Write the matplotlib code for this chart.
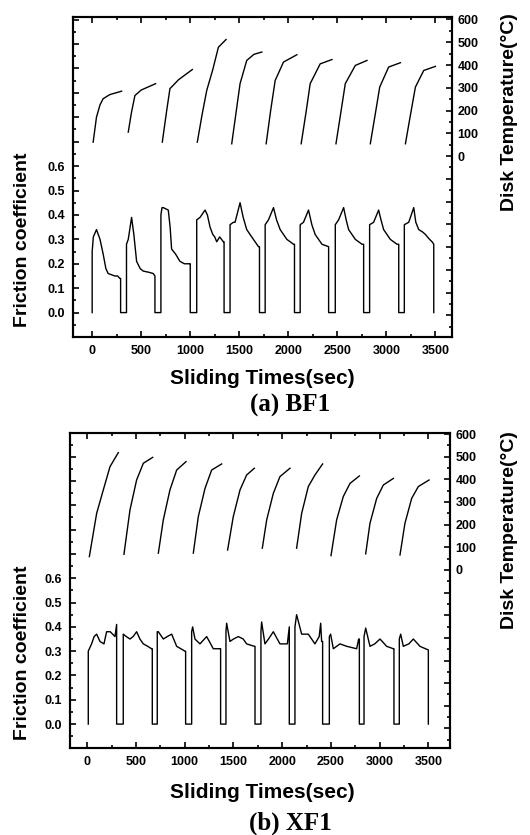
import matplotlib

matplotlib.use("Agg")
import matplotlib.pyplot as plt
from matplotlib.ticker import FuncFormatter, MultipleLocator

plt.rcParams["font.family"] = ["Liberation Sans", "DejaVu Sans"]
plt.rcParams["font.weight"] = "bold"

# (a) BF1 -- friction coefficient trace (time in s, mu)
bf1_t = [0, 0, 12, 44, 80, 112, 140, 163, 231, 260, 282, 290, 290, 350, 350, 368, 402,
         425, 453, 490, 521, 580, 623, 640, 640, 701, 701, 712, 725, 776, 795, 810, 850,
         895, 940, 991, 1000, 1000, 1066, 1066, 1100, 1151, 1175, 1202, 1230, 1250, 1270,
         1300, 1338, 1345, 1345, 1406, 1406, 1440, 1457, 1508, 1540, 1576, 1644, 1696,
         1706, 1706, 1764, 1764, 1798, 1849, 1880, 1917, 1985, 2053, 2063, 2063, 2121,
         2121, 2155, 2206, 2240, 2274, 2343, 2411, 2411, 2479, 2479, 2513, 2564, 2590,
         2615, 2683, 2751, 2768, 2768, 2829, 2829, 2870, 2921, 2945, 2972, 3040, 3108,
         3126, 3126, 3183, 3183, 3228, 3279, 3300, 3330, 3370, 3398, 3440, 3466, 3483, 3483]
bf1_mu = [0.0, 0.25, 0.31, 0.34, 0.30, 0.24, 0.18, 0.16, 0.15, 0.15, 0.14, 0.14, 0.0, 0.0,
          0.28, 0.30, 0.39, 0.32, 0.21, 0.18, 0.17, 0.165, 0.16, 0.15, 0.0, 0.0, 0.40, 0.43,
          0.43, 0.42, 0.35, 0.26, 0.24, 0.21, 0.20, 0.20, 0.20, 0.0, 0.0, 0.38, 0.39, 0.42,
          0.40, 0.35, 0.32, 0.31, 0.29, 0.31, 0.29, 0.29, 0.0, 0.0, 0.36, 0.37, 0.37, 0.45,
          0.39, 0.34, 0.30, 0.27, 0.27, 0.0, 0.0, 0.36, 0.38, 0.43, 0.38, 0.34, 0.30, 0.28,
          0.28, 0.0, 0.0, 0.36, 0.37, 0.42, 0.36, 0.32, 0.28, 0.27, 0.0, 0.0, 0.36, 0.38,
          0.43, 0.38, 0.34, 0.30, 0.28, 0.28, 0.0, 0.0, 0.36, 0.37, 0.42, 0.38, 0.34, 0.30,
          0.28, 0.28, 0.0, 0.0, 0.36, 0.37, 0.43, 0.37, 0.34, 0.33, 0.32, 0.30, 0.29, 0.28, 0.0]

# (a) BF1 -- disk temperature runs (time in s, degC)
bf1_temp_t = [[10, 44, 80, 112, 180, 300], [368, 400, 436, 500, 647],
              [715, 760, 793, 880, 1021], [1072, 1120, 1168, 1230, 1287, 1365],
              [1423, 1470, 1508, 1576, 1650, 1730], [1774, 1820, 1866, 1951, 2087],
              [2131, 2180, 2223, 2325, 2445], [2486, 2535, 2581, 2683, 2802],
              [2836, 2885, 2932, 3023, 3143], [3194, 3245, 3296, 3381, 3500]]
bf1_temp = [[61, 171, 225, 252, 270, 285], [105, 190, 266, 290, 318],
            [61, 200, 296, 335, 380], [61, 180, 288, 380, 478, 512],
            [54, 200, 318, 420, 447, 457], [54, 200, 332, 413, 445],
            [54, 190, 318, 405, 424], [54, 190, 318, 398, 420],
            [54, 180, 303, 391, 410], [54, 180, 303, 376, 394]]

# (b) XF1 -- friction coefficient trace
xf1_t = [10, 10, 44, 70, 96, 130, 171, 198, 235, 260, 284, 301, 301, 369, 369, 400, 438,
         470, 506, 540, 575, 620, 660, 667, 667, 718, 718, 729, 780, 820, 866, 917, 960,
         1002, 1009, 1009, 1071, 1071, 1081, 1105, 1156, 1225, 1293, 1362, 1368, 1368,
         1423, 1423, 1430, 1464, 1500, 1550, 1600, 1635, 1714, 1721, 1721, 1782, 1782,
         1789, 1823, 1860, 1909, 1977, 2053, 2073, 2073, 2131, 2131, 2148, 2200, 2268,
         2336, 2380, 2395, 2405, 2415, 2415, 2484, 2484, 2497, 2525, 2593, 2662, 2764,
         2785, 2792, 2792, 2840, 2840, 2857, 2901, 2950, 3004, 3072, 3141, 3147, 3147,
         3202, 3202, 3216, 3243, 3300, 3346, 3414, 3470, 3500, 3500]
xf1_mu = [0.0, 0.30, 0.33, 0.36, 0.37, 0.34, 0.33, 0.38, 0.38, 0.37, 0.36, 0.41, 0.0, 0.0,
          0.37, 0.36, 0.35, 0.36, 0.38, 0.35, 0.33, 0.32, 0.31, 0.31, 0.0, 0.0, 0.38, 0.38,
          0.35, 0.36, 0.37, 0.32, 0.31, 0.30, 0.30, 0.0, 0.0, 0.38, 0.40, 0.35, 0.33, 0.36,
          0.31, 0.31, 0.31, 0.0, 0.0, 0.38, 0.415, 0.34, 0.35, 0.36, 0.35, 0.33, 0.32, 0.32,
          0.0, 0.0, 0.38, 0.42, 0.33, 0.35, 0.38, 0.33, 0.33, 0.40, 0.0, 0.0, 0.40, 0.45,
          0.37, 0.37, 0.33, 0.36, 0.415, 0.34, 0.34, 0.0, 0.0, 0.36, 0.37, 0.31, 0.33, 0.32,
          0.31, 0.35, 0.35, 0.0, 0.0, 0.36, 0.395, 0.32, 0.33, 0.35, 0.32, 0.31, 0.31, 0.0,
          0.0, 0.35, 0.37, 0.32, 0.33, 0.35, 0.32, 0.31, 0.305, 0.0]

# (b) XF1 -- disk temperature runs
xf1_temp_t = [[21, 96, 164, 233, 318], [376, 438, 506, 575, 671], [729, 780, 848, 917, 1013],
              [1088, 1139, 1208, 1276, 1379], [1440, 1498, 1567, 1635, 1714],
              [1796, 1841, 1909, 1977, 2080], [2148, 2200, 2268, 2336, 2415],
              [2501, 2559, 2627, 2696, 2792], [2857, 2901, 2970, 3038, 3141],
              [3209, 3260, 3329, 3397, 3507]]
xf1_temp = [[59, 250, 353, 456, 518], [69, 265, 397, 471, 497], [74, 221, 353, 441, 478],
            [74, 235, 360, 441, 468], [88, 235, 353, 419, 449], [96, 221, 338, 412, 449],
            [96, 250, 368, 419, 468], [63, 221, 324, 382, 415], [71, 206, 316, 375, 404],
            [66, 206, 316, 368, 397]]

panels = [
    dict(t=bf1_t, mu=bf1_mu, tt=bf1_temp_t, temp=bf1_temp, rect=(0.138, 0.5964, 0.715, 0.383),
         xlim=(-194, 3670), ylim=(-0.1, 1.21), tlim=(-795, 610), xlab_y=378, cap_y=405,
         fric_y=240, disk_y=112, caption="(a) BF1"),
    dict(t=xf1_t, mu=xf1_mu, tt=xf1_temp_t, temp=xf1_temp, rect=(0.132, 0.104, 0.717, 0.377),
         xlim=(-178, 3722), ylim=(-0.099, 1.196), tlim=(-787, 603), xlab_y=793, cap_y=823,
         fric_y=653, disk_y=530, caption="(b) XF1"),
]

W, H = 530, 835
fig = plt.figure(figsize=(W / 100, H / 100), dpi=100)

for p in panels:
    ax = fig.add_axes(p["rect"])
    ax.plot(p["t"], p["mu"], color="black", lw=1.0)
    ax.set_xlim(*p["xlim"])
    ax.set_ylim(*p["ylim"])
    ax.xaxis.set_major_locator(MultipleLocator(500))
    ax.xaxis.set_minor_locator(MultipleLocator(250))
    ax.yaxis.set_major_locator(MultipleLocator(0.1))
    ax.yaxis.set_minor_locator(MultipleLocator(0.05))
    ax.yaxis.set_major_formatter(FuncFormatter(lambda v, _: f"{v:.1f}" if -0.01 < v < 0.65 else ""))
    ax.tick_params(which="both", direction="in", top=True, labelsize=9, width=1.2)
    ax.tick_params(which="major", length=4, pad=6)
    ax.tick_params(which="minor", length=2)
    for s in ax.spines.values():
        s.set_linewidth(1.5)

    ax2 = ax.twinx()
    for xs, ys in zip(p["tt"], p["temp"]):
        ax2.plot(xs, ys, color="black", lw=1.0)
    ax2.set_ylim(*p["tlim"])
    ax2.yaxis.set_major_locator(MultipleLocator(100))
    ax2.yaxis.set_minor_locator(MultipleLocator(50))
    ax2.yaxis.set_major_formatter(FuncFormatter(lambda v, _: f"{v:.0f}" if -1 < v < 601 else ""))
    ax2.tick_params(which="both", direction="in", labelsize=9, width=1.2)
    ax2.tick_params(which="major", length=4, pad=4)
    ax2.tick_params(which="minor", length=2)
    for s in ax2.spines.values():
        s.set_linewidth(1.5)

    fig.text(262 / W, 1 - p["xlab_y"] / H, "Sliding Times(sec)", ha="center", va="center",
             fontsize=15, fontweight="bold")
    fig.text(290 / W, 1 - p["cap_y"] / H, p["caption"], ha="center", va="center",
             fontsize=18, fontweight="bold", family=["Liberation Serif", "DejaVu Serif"])
    fig.text(23 / W, 1 - p["fric_y"] / H, "Friction coefficient", ha="center", va="center",
             rotation=90, fontsize=14, fontweight="bold")
    fig.text(510 / W, 1 - p["disk_y"] / H, "Disk Temperature(°C)", ha="center", va="center",
             rotation=90, fontsize=14, fontweight="bold")

fig.savefig("out.png", dpi=100)
